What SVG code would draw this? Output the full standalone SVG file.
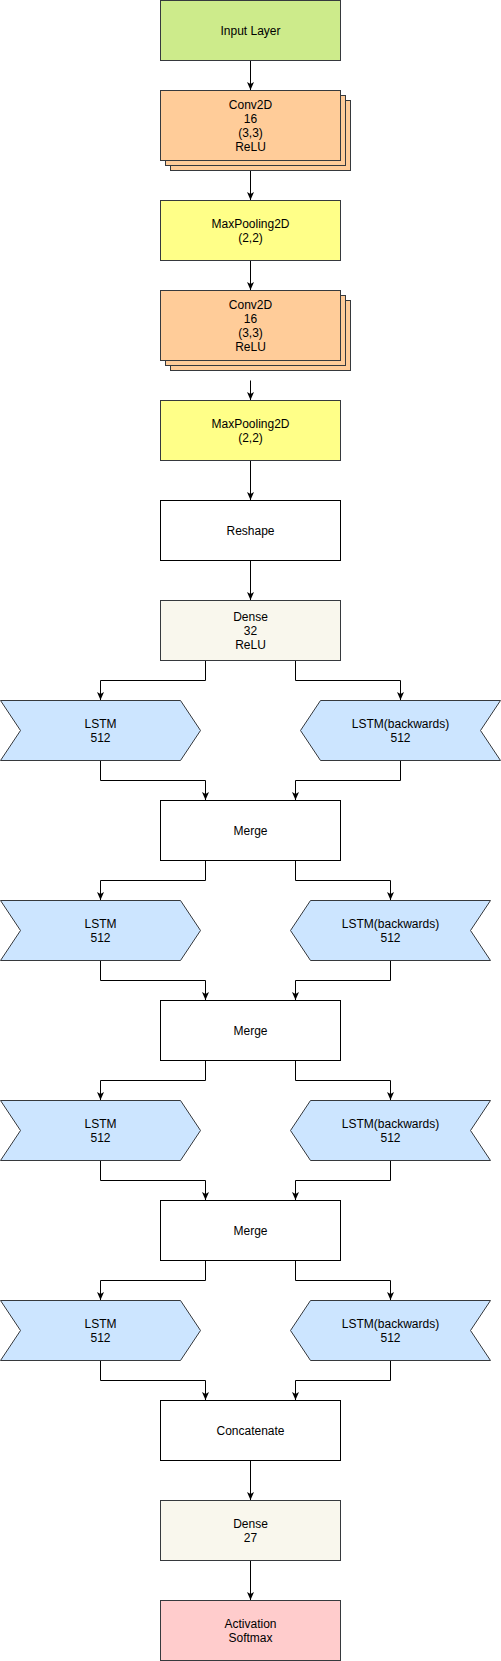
<svg xmlns="http://www.w3.org/2000/svg" width="501" height="1661" viewBox="0 0 501 1661">
<style>
text{font-family:"Liberation Sans",Arial,Helvetica,sans-serif;font-size:12px;fill:#000;text-anchor:middle}
.n{stroke:#36393d;stroke-width:1}
.in{fill:#cdeb8b}
.cv{fill:#ffcc99}
.mp{fill:#ffff88}
.wh{fill:#ffffff;stroke:#000}
.de{fill:#f9f7ed}
.ls{fill:#cce5ff}
.ac{fill:#ffcccc}
.c{fill:none;stroke:#000;stroke-width:1;marker-end:url(#arr)}
</style>
<defs>
<marker id="arr" viewBox="0 0 8 8" refX="8" refY="4" markerWidth="8" markerHeight="8" markerUnits="userSpaceOnUse" orient="auto">
<path d="M0,0.5 L8,4 L0,7.5 L2,4 Z" fill="#000"/>
</marker>
</defs>
<rect width="501" height="1661" fill="#ffffff"/>
<g id="connectors">
<path class="c" d="M250.5,60.5 V90"/>
<path class="c" d="M250.5,170.5 V200"/>
<path class="c" d="M250.5,260.5 V290"/>
<path class="c" d="M250.5,380.5 V400"/>
<path class="c" d="M250.5,460.5 V500"/>
<path class="c" d="M250.5,560.5 V600"/>
<path class="c" d="M205.5,660.5 V680.5 H100.5 V700"/>
<path class="c" d="M295.5,660.5 V680.5 H400.5 V700"/>
<path class="c" d="M100.5,760.5 V780.5 H205.5 V800"/>
<path class="c" d="M400.5,760.5 V780.5 H295.5 V800"/>
<path class="c" d="M205.5,860.5 V880.5 H100.5 V900"/>
<path class="c" d="M295.5,860.5 V880.5 H390.5 V900"/>
<path class="c" d="M100.5,960.5 V980.5 H205.5 V1000"/>
<path class="c" d="M390.5,960.5 V980.5 H295.5 V1000"/>
<path class="c" d="M205.5,1060.5 V1080.5 H100.5 V1100"/>
<path class="c" d="M295.5,1060.5 V1080.5 H390.5 V1100"/>
<path class="c" d="M100.5,1160.5 V1180.5 H205.5 V1200"/>
<path class="c" d="M390.5,1160.5 V1180.5 H295.5 V1200"/>
<path class="c" d="M205.5,1260.5 V1280.5 H100.5 V1300"/>
<path class="c" d="M295.5,1260.5 V1280.5 H390.5 V1300"/>
<path class="c" d="M100.5,1360.5 V1380.5 H205.5 V1400"/>
<path class="c" d="M390.5,1360.5 V1380.5 H295.5 V1400"/>
<path class="c" d="M250.5,1460.5 V1500"/>
<path class="c" d="M250.5,1560.5 V1600"/>
</g>
<g id="input">
<rect class="n in" x="160.5" y="0.5" width="180" height="60"/>
<text x="250.5" y="34.5">Input Layer</text>
</g>
<g id="conv1">
<rect class="n cv" x="170.5" y="100.5" width="180" height="70"/>
<rect class="n cv" x="165.5" y="95.5" width="180" height="70"/>
<rect class="n cv" x="160.5" y="90.5" width="180" height="70"/>
<text x="250.5" y="108.5">Conv2D</text>
<text x="250.5" y="122.5">16</text>
<text x="250.5" y="136.5">(3,3)</text>
<text x="250.5" y="150.5">ReLU</text>
</g>
<g id="pool1">
<rect class="n mp" x="160.5" y="200.5" width="180" height="60"/>
<text x="250.5" y="227.5">MaxPooling2D</text>
<text x="250.5" y="241.5">(2,2)</text>
</g>
<g id="conv2">
<rect class="n cv" x="170.5" y="300.5" width="180" height="70"/>
<rect class="n cv" x="165.5" y="295.5" width="180" height="70"/>
<rect class="n cv" x="160.5" y="290.5" width="180" height="70"/>
<text x="250.5" y="308.5">Conv2D</text>
<text x="250.5" y="322.5">16</text>
<text x="250.5" y="336.5">(3,3)</text>
<text x="250.5" y="350.5">ReLU</text>
</g>
<g id="pool2">
<rect class="n mp" x="160.5" y="400.5" width="180" height="60"/>
<text x="250.5" y="427.5">MaxPooling2D</text>
<text x="250.5" y="441.5">(2,2)</text>
</g>
<g id="reshape">
<rect class="wh" x="160.5" y="500.5" width="180" height="60"/>
<text x="250.5" y="534.5">Reshape</text>
</g>
<g id="dense32">
<rect class="n de" x="160.5" y="600.5" width="180" height="60"/>
<text x="250.5" y="620.5">Dense</text>
<text x="250.5" y="634.5">32</text>
<text x="250.5" y="648.5">ReLU</text>
</g>
<g id="lstm1">
<polygon class="n ls" points="0.5,700.5 180.5,700.5 200.5,730.5 180.5,760.5 0.5,760.5 20.5,730.5"/>
<text x="100.5" y="728">LSTM</text>
<text x="100.5" y="742">512</text>
</g>
<g id="lstmb1">
<polygon class="n ls" points="300.5,730.5 320.5,700.5 500.5,700.5 480.5,730.5 500.5,760.5 320.5,760.5"/>
<text x="400.5" y="728">LSTM(backwards)</text>
<text x="400.5" y="742">512</text>
</g>
<g id="merge1">
<rect class="wh" x="160.5" y="800.5" width="180" height="60"/>
<text x="250.5" y="834.5">Merge</text>
</g>
<g id="lstm2">
<polygon class="n ls" points="0.5,900.5 180.5,900.5 200.5,930.5 180.5,960.5 0.5,960.5 20.5,930.5"/>
<text x="100.5" y="928">LSTM</text>
<text x="100.5" y="942">512</text>
</g>
<g id="lstmb2">
<polygon class="n ls" points="290.5,930.5 310.5,900.5 490.5,900.5 470.5,930.5 490.5,960.5 310.5,960.5"/>
<text x="390.5" y="928">LSTM(backwards)</text>
<text x="390.5" y="942">512</text>
</g>
<g id="merge2">
<rect class="wh" x="160.5" y="1000.5" width="180" height="60"/>
<text x="250.5" y="1034.5">Merge</text>
</g>
<g id="lstm3">
<polygon class="n ls" points="0.5,1100.5 180.5,1100.5 200.5,1130.5 180.5,1160.5 0.5,1160.5 20.5,1130.5"/>
<text x="100.5" y="1128">LSTM</text>
<text x="100.5" y="1142">512</text>
</g>
<g id="lstmb3">
<polygon class="n ls" points="290.5,1130.5 310.5,1100.5 490.5,1100.5 470.5,1130.5 490.5,1160.5 310.5,1160.5"/>
<text x="390.5" y="1128">LSTM(backwards)</text>
<text x="390.5" y="1142">512</text>
</g>
<g id="merge3">
<rect class="wh" x="160.5" y="1200.5" width="180" height="60"/>
<text x="250.5" y="1234.5">Merge</text>
</g>
<g id="lstm4">
<polygon class="n ls" points="0.5,1300.5 180.5,1300.5 200.5,1330.5 180.5,1360.5 0.5,1360.5 20.5,1330.5"/>
<text x="100.5" y="1328">LSTM</text>
<text x="100.5" y="1342">512</text>
</g>
<g id="lstmb4">
<polygon class="n ls" points="290.5,1330.5 310.5,1300.5 490.5,1300.5 470.5,1330.5 490.5,1360.5 310.5,1360.5"/>
<text x="390.5" y="1328">LSTM(backwards)</text>
<text x="390.5" y="1342">512</text>
</g>
<g id="concat">
<rect class="wh" x="160.5" y="1400.5" width="180" height="60"/>
<text x="250.5" y="1434.5">Concatenate</text>
</g>
<g id="dense27">
<rect class="n de" x="160.5" y="1500.5" width="180" height="60"/>
<text x="250.5" y="1527.5">Dense</text>
<text x="250.5" y="1541.5">27</text>
</g>
<g id="activation">
<rect class="n ac" x="160.5" y="1600.5" width="180" height="60"/>
<text x="250.5" y="1627.5">Activation</text>
<text x="250.5" y="1641.5">Softmax</text>
</g>
</svg>
